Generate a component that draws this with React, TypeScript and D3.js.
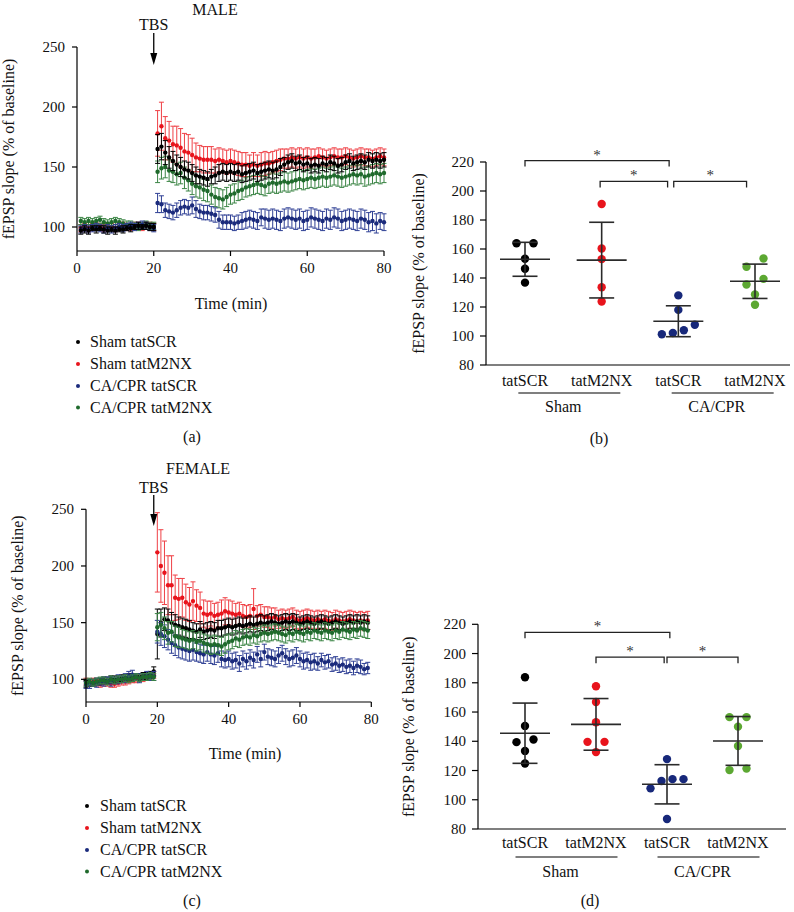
import React from 'react';
import * as d3 from 'd3';

const FONT = '"Liberation Serif","Times New Roman",Times,serif';

// ---------- shared labels ----------
const seriesLabels = ['Sham tatSCR', 'Sham tatM2NX', 'CA/CPR tatSCR', 'CA/CPR tatM2NX'];
const dotColors = ['#000000', '#e8141c', '#1b2b7c', '#1f6a2c'];
const errColors = ['#000000', '#ef4046', '#2e3f94', '#3a8444'];
const scatterColors = ['#000000', '#e8141c', '#17287a', '#5ca832'];
const groupLabels = ['tatSCR', 'tatM2NX', 'tatSCR', 'tatM2NX'];
const conditionLabels = ['Sham', 'CA/CPR'];
const timeTicks = [0, 20, 40, 60, 80];
const tsYTicks = [100, 150, 200, 250];
const scYTicks = [80, 100, 120, 140, 160, 180, 200, 220];

// ---------- MALE time course (% of baseline), 1-min bins ----------
const timesMale = d3.range(1, 81);
const maleShamSCR = [97, 98, 97, 99, 98, 99, 98, 97, 98, 97, 98, 98, 99, 99, 100, 101, 100, 101, 100, 100,
  165, 167, 162, 158, 155, 152, 150, 148, 147, 145, 143, 142, 141, 140, 142, 143, 145, 146, 145, 146,
  145, 146, 144, 145, 146, 147, 145, 146, 147, 148, 147, 148, 150, 152, 154, 155, 153, 154, 152, 153,
  151, 152, 151, 153, 152, 154, 153, 151, 152, 154, 155, 153, 154, 155, 154, 156, 155, 156, 155, 156];
const maleShamSCRErr = [3, 3, 3, 2, 3, 2, 3, 3, 2, 3, 2, 3, 2, 3, 2, 3, 2, 3, 3, 3,
  12, 11, 10, 9, 8, 8, 8, 7, 7, 7, 7, 6, 6, 6, 6, 7, 7, 7, 7, 7,
  7, 7, 7, 7, 7, 7, 7, 7, 7, 7, 7, 7, 7, 6, 6, 6, 6, 6, 6, 6,
  6, 6, 6, 6, 6, 6, 6, 6, 6, 6, 6, 6, 6, 6, 6, 6, 6, 6, 6, 6];
const maleShamM2NX = [99, 100, 99, 100, 101, 100, 99, 100, 100, 99, 100, 101, 100, 100, 101, 101, 100, 101, 101, 100,
  178, 184, 174, 172, 169, 168, 166, 163, 162, 160, 158, 157, 156, 156, 156, 155, 156, 155, 154, 155,
  154, 153, 152, 152, 151, 152, 151, 152, 153, 153, 154, 155, 156, 157, 157, 158, 157, 158, 157, 158,
  157, 158, 159, 158, 157, 158, 159, 158, 158, 159, 158, 157, 158, 159, 158, 158, 157, 158, 159, 158];
const maleShamM2NXErr = [3, 3, 3, 3, 3, 3, 3, 3, 3, 3, 3, 3, 3, 3, 3, 3, 3, 3, 3, 3,
  19, 20, 18, 16, 15, 16, 16, 15, 15, 14, 12, 11, 11, 11, 11, 10, 10, 10, 10, 10,
  10, 10, 10, 10, 9, 10, 9, 10, 10, 9, 9, 9, 9, 8, 8, 8, 8, 8, 8, 8,
  8, 7, 7, 7, 7, 7, 7, 7, 7, 7, 7, 7, 7, 7, 7, 7, 7, 7, 7, 7];
const maleCaSCR = [98, 99, 98, 99, 100, 99, 98, 99, 98, 99, 100, 99, 100, 101, 100, 101, 102, 101, 100, 99,
  120, 119, 114, 113, 112, 114, 116, 117, 116, 118, 115, 113, 112, 112, 111, 110, 106, 104, 104, 104,
  103, 104, 105, 106, 107, 106, 105, 108, 107, 106, 107, 106, 105, 107, 108, 107, 106, 107, 105, 106,
  108, 107, 106, 105, 107, 106, 108, 107, 105, 106, 107, 106, 105, 107, 106, 104, 105, 103, 105, 104];
const maleCaSCRErr = [3, 3, 3, 3, 3, 3, 3, 3, 3, 3, 3, 3, 3, 3, 3, 3, 3, 3, 3, 3,
  8, 7, 6, 6, 6, 6, 6, 6, 6, 7, 7, 6, 6, 6, 6, 6, 7, 6, 6, 6,
  6, 6, 7, 7, 7, 7, 7, 7, 8, 8, 8, 8, 8, 8, 8, 8, 8, 8, 8, 8,
  8, 8, 8, 8, 8, 8, 8, 8, 8, 8, 8, 8, 8, 8, 8, 8, 8, 8, 7, 7];
const maleCaM2NX = [105, 104, 105, 104, 105, 106, 104, 103, 104, 105, 104, 103, 102, 102, 101, 100, 101, 102, 101, 101,
  146, 149, 150, 147, 146, 144, 145, 141, 139, 136, 134, 133, 131, 130, 127, 125, 124, 123, 125, 127,
  128, 130, 131, 133, 134, 135, 136, 135, 134, 136, 137, 136, 137, 138, 137, 138, 139, 140, 139, 140,
  141, 140, 141, 142, 141, 142, 143, 142, 141, 142, 143, 144, 143, 144, 142, 143, 144, 145, 144, 145];
const maleCaM2NXErr = [3, 3, 3, 3, 3, 3, 3, 3, 3, 3, 3, 3, 3, 3, 3, 3, 3, 3, 3, 3,
  9, 9, 9, 9, 9, 9, 9, 9, 9, 9, 9, 9, 9, 9, 8, 8, 8, 8, 8, 8,
  8, 8, 8, 8, 8, 8, 8, 8, 8, 8, 8, 8, 8, 8, 8, 8, 8, 8, 8, 8,
  8, 8, 8, 8, 8, 8, 8, 8, 8, 8, 8, 8, 8, 8, 8, 8, 8, 8, 8, 8];

// ---------- FEMALE time course ----------
const timesFemale = d3.range(0, 80);
const femShamSCR = [96, 97, 97, 98, 98, 99, 99, 100, 100, 100, 101, 101, 102, 101, 102, 102, 103, 103, 104, 107,
  140, 150, 153, 152, 150, 148, 147, 146, 145, 144, 143, 142, 144, 142, 143, 144, 143, 145, 145, 146,
  147, 146, 147, 148, 147, 148, 149, 148, 149, 150, 149, 150, 151, 150, 149, 150, 151, 150, 151, 150,
  149, 150, 151, 150, 149, 150, 151, 150, 149, 150, 151, 150, 149, 150, 151, 150, 151, 150, 151, 150];
const femShamSCRErr = [3, 3, 3, 3, 3, 3, 3, 3, 3, 3, 3, 3, 3, 3, 3, 3, 3, 3, 3, 4,
  22, 12, 10, 10, 9, 9, 8, 8, 8, 8, 7, 7, 7, 7, 7, 7, 7, 7, 7, 7,
  7, 7, 7, 7, 7, 7, 7, 7, 7, 7, 7, 7, 7, 7, 7, 7, 7, 7, 7, 7,
  6, 6, 6, 6, 6, 6, 6, 6, 6, 6, 6, 6, 6, 6, 6, 6, 6, 6, 6, 6];
const femShamM2NX = [98, 97, 98, 97, 96, 97, 97, 96, 96, 97, 98, 98, 99, 100, 100, 101, 101, 102, 103, 104,
  212, 200, 194, 183, 183, 172, 171, 172, 168, 166, 169, 165, 163, 158, 157, 158, 156, 157, 158, 160,
  159, 158, 157, 158, 156, 155, 156, 162, 156, 157, 155, 155, 154, 155, 153, 154, 153, 154, 155, 153,
  152, 153, 154, 153, 152, 153, 152, 153, 152, 151, 153, 152, 151, 152, 153, 152, 151, 152, 151, 152];
const femShamM2NXErr = [3, 3, 3, 3, 3, 3, 3, 3, 3, 3, 3, 3, 3, 3, 3, 3, 3, 3, 3, 3,
  35, 32, 28, 26, 26, 20, 18, 17, 16, 15, 17, 14, 14, 12, 12, 11, 11, 11, 12, 12,
  11, 11, 10, 10, 10, 10, 10, 18, 9, 9, 9, 9, 9, 8, 8, 8, 8, 8, 8, 8,
  8, 8, 8, 8, 8, 8, 8, 8, 8, 8, 8, 8, 8, 8, 8, 8, 8, 8, 8, 8];
const femCaSCR = [95, 96, 97, 97, 98, 98, 99, 98, 99, 100, 100, 101, 103, 104, 102, 101, 102, 103, 102, 103,
  142, 140, 138, 135, 132, 130, 128, 127, 126, 125, 126, 124, 123, 122, 124, 122, 121, 123, 118, 117,
  118, 116, 117, 114, 118, 116, 119, 117, 122, 118, 124, 120, 119, 118, 121, 123, 120, 118, 119, 121,
  118, 116, 117, 115, 116, 114, 117, 115, 116, 113, 114, 112, 113, 111, 112, 110, 112, 111, 109, 110];
const femCaSCRErr = [3, 4, 3, 4, 3, 4, 3, 4, 3, 4, 3, 4, 4, 4, 3, 4, 3, 4, 3, 4,
  10, 10, 10, 9, 9, 9, 9, 9, 9, 9, 9, 8, 8, 8, 8, 8, 8, 8, 7, 7,
  7, 7, 7, 7, 7, 7, 7, 7, 7, 7, 7, 7, 7, 7, 7, 7, 7, 7, 7, 7,
  7, 7, 7, 7, 7, 6, 6, 6, 6, 6, 6, 6, 6, 6, 6, 6, 6, 6, 5, 5];
const femCaM2NX = [97, 98, 97, 98, 99, 99, 98, 100, 99, 100, 100, 101, 100, 101, 102, 101, 102, 102, 103, 102,
  146, 148, 145, 141, 142, 138, 137, 136, 135, 134, 135, 133, 134, 132, 131, 130, 131, 130, 129, 131,
  133, 134, 136, 135, 137, 138, 137, 139, 138, 140, 141, 140, 141, 142, 141, 140, 139, 141, 140, 142,
  141, 140, 142, 141, 143, 142, 141, 143, 142, 141, 143, 142, 144, 143, 142, 144, 143, 145, 144, 143];
const femCaM2NXErr = [3, 3, 3, 3, 3, 3, 3, 3, 3, 3, 3, 3, 3, 3, 3, 3, 3, 3, 3, 3,
  12, 11, 10, 10, 9, 9, 9, 8, 8, 8, 8, 8, 8, 8, 8, 8, 8, 8, 8, 8,
  7, 7, 7, 7, 7, 7, 7, 7, 7, 7, 7, 7, 7, 7, 7, 7, 7, 7, 7, 7,
  7, 7, 7, 7, 7, 7, 7, 7, 7, 7, 7, 7, 7, 7, 7, 7, 7, 7, 7, 7];

// ---------- individual animals (scatter) ----------
const maleScatter = [
  [164, 164, 153.3, 146.4, 136.8],
  [191, 160.3, 153, 133.6, 123.8],
  [128, 118, 107.8, 104, 102.1, 101.2],
  [153.5, 147.8, 139.4, 135.5, 128.6, 121.6],
];
const femaleScatter = [
  [183.8, 150.5, 141.2, 139.4, 133.4, 124.8],
  [177.6, 166.9, 153, 139.6, 139.6, 132.6],
  [127.8, 114.1, 114.1, 112.8, 107.8, 86.8],
  [156.5, 156.5, 150, 136.8, 121.3, 120.3],
];
// significance brackets: [from group, to group, level]
const maleBrackets = [[0, 1.88, 221], [0.98, 1.86, 206.6], [1.94, 2.89, 206.6]];
const femaleBrackets = [[0, 2.04, 214.5], [1.0, 1.96, 197.5], [2.0, 3.0, 197.5]];

// ---------- components ----------
type TSProps = {
  times: number[];
  means: number[][];
  errs: number[][];
  order: number[];
  xr: [number, number];
  yr: [number, number];
  title: string; titleX: number; titleY: number;
  tbsT: number; tbsTextY: number; arrowTop: number; arrowTip: number;
  tickLabelY: number; timeLabelX: number; timeLabelY: number;
  yLabelX: number;
  legendBulletX: number; legendTextX: number; legendY: number[];
  panel: string; panelX: number; panelY: number;
};

function TimeSeriesPanel(p: TSProps) {
  const x = d3.scaleLinear().domain([0, 80]).range(p.xr);
  const y = d3.scaleLinear().domain([80, 250]).range(p.yr);
  const ax = p.xr[0];
  const ay = p.yr[0];
  const ax2 = x(p.tbsT);
  return (
    <g fontFamily={FONT} fill="#111">
      {p.order.map((si) => (
        <g key={si}>
          {p.times.map((t, i) => {
            const m = p.means[si][i];
            const e = p.errs[si][i];
            const cx = x(t);
            return (
              <g key={i} stroke={errColors[si]} strokeWidth={1}>
                <line x1={cx} x2={cx} y1={y(m - e)} y2={y(m + e)} />
                <line x1={cx - 2.5} x2={cx + 2.5} y1={y(m + e)} y2={y(m + e)} />
                <line x1={cx - 2.5} x2={cx + 2.5} y1={y(m - e)} y2={y(m - e)} />
              </g>
            );
          })}
          {p.times.map((t, i) => (
            <circle key={'d' + i} cx={x(t)} cy={y(p.means[si][i])} r={2.2} fill={dotColors[si]} />
          ))}
        </g>
      ))}
      {/* axes */}
      <line x1={ax} x2={ax} y1={y(80)} y2={y(250)} stroke="#000" strokeWidth={1.2} />
      <line x1={ax} x2={x(80)} y1={ay} y2={ay} stroke="#000" strokeWidth={1.2} />
      {tsYTicks.map((v) => (
        <g key={v}>
          <line x1={ax - 5} x2={ax} y1={y(v)} y2={y(v)} stroke="#000" strokeWidth={1.2} />
          <text x={ax - 12} y={y(v) + 5} fontSize={15} textAnchor="end">{v}</text>
        </g>
      ))}
      {timeTicks.map((v) => (
        <g key={v}>
          <line x1={x(v)} x2={x(v)} y1={ay} y2={ay + 5} stroke="#000" strokeWidth={1.2} />
          <text x={x(v)} y={p.tickLabelY} fontSize={15} textAnchor="middle">{v}</text>
        </g>
      ))}
      <text x={p.timeLabelX} y={p.timeLabelY} fontSize={16} textAnchor="middle">Time (min)</text>
      <text transform={`translate(${p.yLabelX},${(y(80) + y(250)) / 2}) rotate(-90)`} fontSize={16} textAnchor="middle">
        fEPSP slope (% of baseline)
      </text>
      <text x={p.titleX} y={p.titleY} fontSize={16} textAnchor="middle">{p.title}</text>
      <text x={ax2} y={p.tbsTextY} fontSize={16} textAnchor="middle">TBS</text>
      <line x1={ax2} x2={ax2} y1={p.arrowTop} y2={p.arrowTip - 11} stroke="#000" strokeWidth={1.3} />
      <path d={`M${ax2 - 3.5},${p.arrowTip - 12} L${ax2 + 3.5},${p.arrowTip - 12} L${ax2},${p.arrowTip} Z`} fill="#000" />
      {seriesLabels.map((s, i) => (
        <g key={s}>
          <circle cx={p.legendBulletX} cy={p.legendY[i] - 5} r={2} fill={dotColors[i]} />
          <text x={p.legendTextX} y={p.legendY[i]} fontSize={16}>{s}</text>
        </g>
      ))}
      <text x={p.panelX} y={p.panelY} fontSize={16} textAnchor="middle">{p.panel}</text>
    </g>
  );
}

function dodge(values: number[], ys: (v: number) => number) {
  const idx = values.map((_, i) => i).sort((a, b) => values[a] - values[b]);
  const clusters: number[][] = [];
  let cur = [idx[0]];
  for (let k = 1; k < idx.length; k++) {
    if (Math.abs(ys(values[idx[k]]) - ys(values[idx[k - 1]])) < 8.5) cur.push(idx[k]);
    else { clusters.push(cur); cur = [idx[k]]; }
  }
  clusters.push(cur);
  const off = new Array(values.length).fill(0);
  clusters.forEach((c) => {
    const n = c.length;
    const s = n > 2 ? Math.min(17, 33 / (n - 1)) : 17;
    c.forEach((id, j) => { off[id] = (j - (n - 1) / 2) * s; });
  });
  return off;
}

type SCProps = {
  data: number[][];
  brackets: number[][];
  axisX: number; axisEnd: number;
  yr: [number, number];
  xr: [number, number];
  catY: number; lineY: number; condY: number;
  yLabelX: number;
  panel: string; panelX: number; panelY: number;
};

function ScatterPanel(p: SCProps) {
  const y = d3.scaleLinear().domain([80, 220]).range(p.yr);
  const x = d3.scaleLinear().domain([0, 3]).range(p.xr);
  const ay = p.yr[0];
  return (
    <g fontFamily={FONT} fill="#111">
      <line x1={p.axisX} x2={p.axisX} y1={y(80)} y2={y(220)} stroke="#000" strokeWidth={1.2} />
      <line x1={p.axisX} x2={p.axisEnd} y1={ay} y2={ay} stroke="#000" strokeWidth={1.2} />
      {scYTicks.map((v) => (
        <g key={v}>
          <line x1={p.axisX - 6} x2={p.axisX} y1={y(v)} y2={y(v)} stroke="#000" strokeWidth={1.2} />
          <text x={p.axisX - 12} y={y(v) + 5} fontSize={15} textAnchor="end">{v}</text>
        </g>
      ))}
      {p.data.map((vals, gi) => {
        const off = dodge(vals, y);
        const m = d3.mean(vals) as number;
        const sd = d3.deviation(vals) as number;
        const cx = x(gi);
        return (
          <g key={gi}>
            {vals.map((v, i) => (
              <circle key={i} cx={cx + off[i]} cy={y(v)} r={4.2} fill={scatterColors[gi]} />
            ))}
            <g stroke="#2a2a2a" strokeWidth={1.6}>
              <line x1={cx - 25} x2={cx + 25} y1={y(m)} y2={y(m)} />
              <line x1={cx} x2={cx} y1={y(m - sd)} y2={y(m + sd)} />
              <line x1={cx - 12.5} x2={cx + 12.5} y1={y(m + sd)} y2={y(m + sd)} />
              <line x1={cx - 12.5} x2={cx + 12.5} y1={y(m - sd)} y2={y(m - sd)} />
            </g>
            <text x={cx} y={p.catY} fontSize={16} textAnchor="middle">{groupLabels[gi]}</text>
          </g>
        );
      })}
      {conditionLabels.map((c, ci) => {
        const mid = (x(ci * 2) + x(ci * 2 + 1)) / 2;
        return (
          <g key={c}>
            <line x1={mid - 45} x2={mid + 57} y1={p.lineY} y2={p.lineY} stroke="#000" strokeWidth={1.2} />
            <text x={mid} y={p.condY} fontSize={16} textAnchor="middle">{c}</text>
          </g>
        );
      })}
      {p.brackets.map(([a, b, lv], i) => {
        const x1 = x(a), x2 = x(b), yy = y(lv);
        return (
          <g key={i}>
            <path d={`M${x1},${yy + 6} V${yy} H${x2} V${yy + 6}`} fill="none" stroke="#222" strokeWidth={1.3} />
            <text x={(x1 + x2) / 2} y={yy - 1} fontSize={15} textAnchor="middle" fill="#333">*</text>
          </g>
        );
      })}
      <text transform={`translate(${p.yLabelX},${(y(80) + y(220)) / 2}) rotate(-90)`} fontSize={16} textAnchor="middle">
        fEPSP slope (% of baseline)
      </text>
      <text x={p.panelX} y={p.panelY} fontSize={16} textAnchor="middle">{p.panel}</text>
    </g>
  );
}

export default function App() {
  const maleMeans = [maleShamSCR, maleShamM2NX, maleCaSCR, maleCaM2NX];
  const maleErrs = [maleShamSCRErr, maleShamM2NXErr, maleCaSCRErr, maleCaM2NXErr];
  const femMeans = [femShamSCR, femShamM2NX, femCaSCR, femCaM2NX];
  const femErrs = [femShamSCRErr, femShamM2NXErr, femCaSCRErr, femCaM2NXErr];
  return (
    <svg width={794} height={912} style={{ position: 'absolute', left: 0, top: 0, background: '#fff' }}>
      <rect width={794} height={912} fill="#fff" />
      <TimeSeriesPanel
        times={timesMale} means={maleMeans} errs={maleErrs} order={[1, 3, 2, 0]}
        xr={[77, 384]} yr={[251, 47]}
        title="MALE" titleX={215} titleY={15}
        tbsT={20} tbsTextY={30} arrowTop={33} arrowTip={65}
        tickLabelY={273} timeLabelX={231} timeLabelY={309} yLabelX={14}
        legendBulletX={78} legendTextX={90} legendY={[347, 369, 391, 412.5]}
        panel="(a)" panelX={192} panelY={442}
      />
      <TimeSeriesPanel
        times={timesFemale} means={femMeans} errs={femErrs} order={[1, 0, 2, 3]}
        xr={[86, 371.3]} yr={[702, 509.3]}
        title="FEMALE" titleX={198} titleY={474}
        tbsT={19} tbsTextY={492.5} arrowTop={495} arrowTip={526}
        tickLabelY={724} timeLabelX={245} timeLabelY={759} yLabelX={23}
        legendBulletX={87} legendTextX={100} legendY={[811, 833, 855, 876.5]}
        panel="(c)" panelX={192} panelY={906}
      />
      <ScatterPanel
        data={maleScatter} brackets={maleBrackets}
        axisX={486} axisEnd={790} yr={[365, 162]} xr={[525, 755]}
        catY={386} lineY={393} condY={411.5} yLabelX={424}
        panel="(b)" panelX={599} panelY={443.5}
      />
      <ScatterPanel
        data={femaleScatter} brackets={femaleBrackets}
        axisX={478} axisEnd={786} yr={[829, 624.3]} xr={[525, 738]}
        catY={848} lineY={857} condY={876.5} yLabelX={414}
        panel="(d)" panelX={590} panelY={906}
      />
    </svg>
  );
}
